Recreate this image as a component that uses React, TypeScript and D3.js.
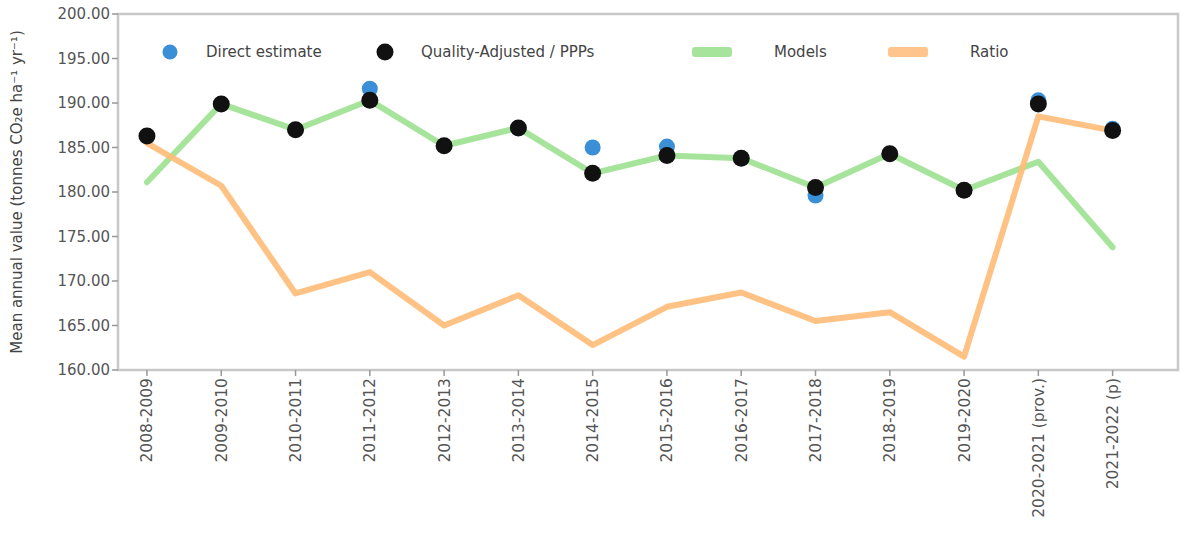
import * as d3 from "d3";

const categories = ["2008-2009", "2009-2010", "2010-2011", "2011-2012", "2012-2013", "2013-2014", "2014-2015", "2015-2016", "2016-2017", "2017-2018", "2018-2019", "2019-2020", "2020-2021 (prov.)", "2021-2022 (p)"];
const directEstimate = [186.3, 189.9, 187.0, 191.6, 185.2, 187.2, 185.0, 185.1, 183.8, 179.6, 184.3, 180.2, 190.3, 187.1];
const qualityAdjusted = [186.3, 189.9, 187.0, 190.3, 185.2, 187.2, 182.1, 184.1, 183.8, 180.5, 184.3, 180.2, 189.9, 186.9];
const models = [181.1, 189.9, 187.0, 190.3, 185.2, 187.2, 182.1, 184.1, 183.8, 180.5, 184.3, 180.2, 183.4, 173.8];
const ratio = [185.5, 180.7, 168.6, 171.0, 165.0, 168.4, 162.8, 167.1, 168.7, 165.5, 166.5, 161.5, 188.5, 186.9];
const yTicks = [160, 165, 170, 175, 180, 185, 190, 195, 200];

const width = 1200
const height = 540
const marginLeft = 118
const marginTop = 14
const marginRight = 22
const marginBottom = 170

export default function App() {
    // categories sit on integer positions, matplotlib style padding on each side
    const x = d3.scaleLinear([-0.39, categories.length - 1 + 0.88], [marginLeft, width - marginRight]);
    const y = d3.scaleLinear([160, 200], [height - marginBottom, marginTop]);
    const line = d3.line<number>((d, i) => x(i), y);

    const legend = [
        { label: "Direct estimate", kind: "dot", color: "#3a8fd6", x: 170 },
        { label: "Quality-Adjusted / PPPs", kind: "dot", color: "#111", x: 385 },
        { label: "Models", kind: "line", color: "#98df8a", x: 712 },
        { label: "Ratio", kind: "line", color: "#ffbb78", x: 908 },
    ];

    return (
        <svg width={width} height={height} style={{ position: "absolute", left: 0, top: 0, background: "white" }}
            fontFamily="'DejaVu Sans', sans-serif">
            <rect x={marginLeft} y={marginTop} width={width - marginLeft - marginRight}
                height={height - marginTop - marginBottom} fill="white" stroke="#c8c8c8" strokeWidth={2.5} />

            {yTicks.map(t => (
                <g key={t} transform={`translate(${marginLeft},${y(t)})`}>
                    <line x1={-6} x2={0} stroke="#999" strokeWidth={1.5} />
                    <text x={-8} dy="0.35em" textAnchor="end" fontSize={15} fill="#555">{t.toFixed(2)}</text>
                </g>
            ))}

            {categories.map((c, i) => (
                <g key={c} transform={`translate(${x(i)},${height - marginBottom})`}>
                    <line y1={0} y2={6} stroke="#999" strokeWidth={1.5} />
                    <text transform="rotate(-90)" x={-8} dy="0.35em" textAnchor="end" fontSize={15.5} fill="#555">{c}</text>
                </g>
            ))}

            <text transform={`translate(22,${(marginTop + height - marginBottom) / 2}) rotate(-90)`}
                textAnchor="middle" fontSize={15} fill="#444">Mean annual value (tonnes CO₂e ha⁻¹ yr⁻¹)</text>

            <path d={line(models) ?? ""} fill="none" stroke="#98df8a" strokeWidth={6} strokeOpacity={0.85}
                strokeLinejoin="round" strokeLinecap="round" />
            <path d={line(ratio) ?? ""} fill="none" stroke="#ffbb78" strokeWidth={6} strokeOpacity={0.9}
                strokeLinejoin="round" strokeLinecap="round" />

            {directEstimate.map((d, i) => (
                <circle key={"b" + i} cx={x(i)} cy={y(d)} r={8} fill="#3a8fd6" />
            ))}
            {qualityAdjusted.map((d, i) => (
                <circle key={"k" + i} cx={x(i)} cy={y(d)} r={8.5} fill="#111" />
            ))}

            {legend.map(l => (
                <g key={l.label} transform={`translate(${l.x},52)`}>
                    {l.kind === "dot"
                        ? <circle r={l.color === "#111" ? 8.5 : 7.5} fill={l.color} />
                        : <rect x={-20} y={-5} width={40} height={10} rx={3} fill={l.color} opacity={0.85} />}
                    <text x={l.kind === "dot" ? 36 : 62} dy="0.35em" fontSize={15} fill="#444">{l.label}</text>
                </g>
            ))}
        </svg>
    )
}
